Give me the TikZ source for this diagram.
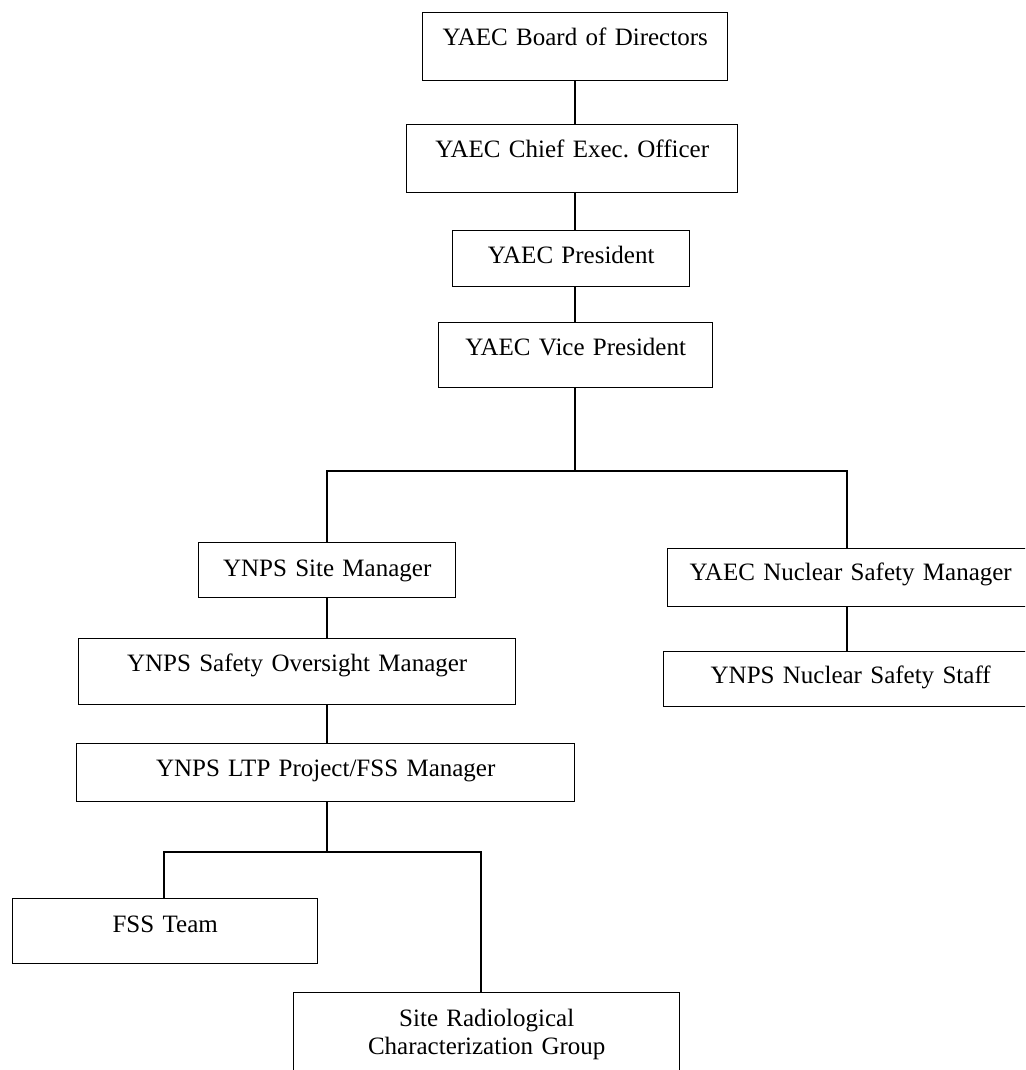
\documentclass[tikz,border=0pt]{standalone}
\usepackage{fontspec}
\setmainfont{Liberation Serif}
\frenchspacing
\newcommand\orgfont{\fontsize{25}{28}\selectfont}
\tikzset{
  orgbox/.style={draw, line width=1.4pt, inner sep=0pt, anchor=north west,
    align=center, font=\orgfont, text height=33pt},
  orgline/.style={line width=1.4pt}
}
\begin{document}
\begin{tikzpicture}[x=1pt,y=-1pt]
\clip (0,0) rectangle (1025,1070);
\fill[white] (0,0) rectangle (1025,1070);
\node[orgbox, text width=305pt, text depth=35pt] (board) at (422,12) {YAEC Board of Directors};
\node[orgbox, text width=331pt, text depth=35pt] (ceo) at (406,124) {YAEC Chief Exec.\ Officer};
\node[orgbox, text width=237pt, text depth=23pt] (pres) at (452,230) {YAEC President};
\node[orgbox, text width=274pt, text depth=32pt] (vp) at (438,322) {YAEC Vice President};
\node[orgbox, text width=257pt, text depth=21pt, text height=34pt] (site) at (198,542) {YNPS Site Manager};
\node[orgbox, text width=437pt, text depth=33pt] (safety) at (78,638) {YNPS Safety Oversight Manager};
\node[orgbox, text width=498pt, text depth=25pt] (ltp) at (76,743) {YNPS LTP Project/FSS Manager};
\node[orgbox, text width=305pt, text depth=31pt, text height=34pt] (fss) at (12,898) {FSS Team};
\node[orgbox, text width=386pt, text depth=66pt, text height=34pt] (srcg) at (293,992) {Site Radiological\\Characterization Group};
\node[orgbox, text width=366pt, text depth=26pt, text height=32pt] (nsm) at (667,548) {YAEC Nuclear Safety Manager};
\node[orgbox, text width=374pt, text depth=23pt, text height=32pt] (staff) at (663,651) {YNPS Nuclear Safety Staff};
\coordinate (spine) at (575,0);
\coordinate (j1) at (575,471);
\coordinate (jl) at (327,471);
\coordinate (jr) at (847,471);
\coordinate (j2) at (327,852);
\coordinate (j2l) at (164,852);
\coordinate (j2r) at (481,852);
\draw[orgline] (board.south -| spine) -- (ceo.north -| spine);
\draw[orgline] (ceo.south -| spine) -- (pres.north -| spine);
\draw[orgline] (pres.south -| spine) -- (vp.north -| spine);
\draw[orgline] (vp.south -| spine) -- (j1);
\draw[orgline] (site.north -| jl) -- (jl) -- (jr) -- (nsm.north -| jr);
\draw[orgline] (site.south -| jl) -- (safety.north -| jl);
\draw[orgline] (safety.south -| jl) -- (ltp.north -| jl);
\draw[orgline] (ltp.south -| j2) -- (j2);
\draw[orgline] (fss.north -| j2l) -- (j2l) -- (j2r) -- (srcg.north -| j2r);
\draw[orgline] (nsm.south -| jr) -- (staff.north -| jr);
\end{tikzpicture}
\end{document}
